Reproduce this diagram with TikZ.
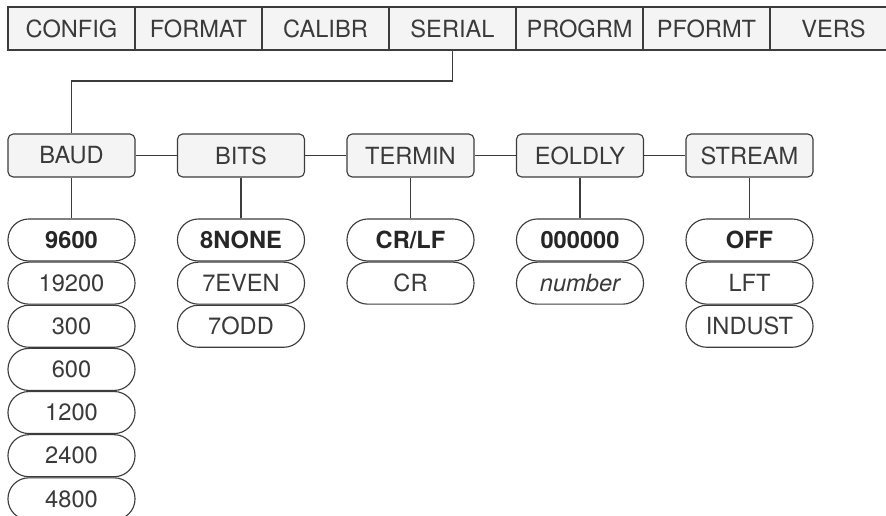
\documentclass[tikz,border=0pt]{standalone}
\usepackage{fontspec}
\setmainfont{TeX Gyre Heros}
\usetikzlibrary{positioning}
\definecolor{barfill}{HTML}{F4F4F4}
\definecolor{linegray}{HTML}{3C3C3C}
\definecolor{textgray}{HTML}{3A3A3A}
\newcommand\labelsize{\fontsize{16.8}{19}\selectfont}
\tikzset{
  tab/.style={draw=linegray, fill=barfill, minimum width=3.175cm, minimum height=1.075cm, inner sep=0pt, text=textgray},
  menu/.style={tab, rounded corners=0.13cm},
  opt/.style={draw=linegray, fill=white, rounded corners=0.52cm, minimum width=3.175cm, minimum height=1.05cm, inner sep=0pt, text=textgray},
  dflt/.style={opt, font=\labelsize\bfseries, text=black!85},
  wire/.style={draw=linegray}
}
\begin{document}
\begin{tikzpicture}[x=0.025cm, y=-0.025cm, line width=0.8pt, font=\labelsize]
\useasboundingbox (0,0) rectangle (886,515);
% Top menu bar
\foreach \key/\lbl [count=\i from 0] in {config/CONFIG,format/FORMAT,calibr/CALIBR,serial/SERIAL,progrm/PROGRM,pformt/PFORMT,vers/VERS}
  \node[tab] (\key) at (71.5+127*\i, 28.5) {\lbl};
% Serial submenu
\foreach \key/\lbl [count=\i from 0] in {baud/BAUD,bits/BITS,termin/TERMIN,eoldly/EOLDLY,stream/STREAM}
  \node[menu] (\key) at (71.5+169.5*\i, 155.5) {\lbl};
\coordinate (turn) at (452.5,81);
\draw[wire] (serial.south) -- (turn) -| (baud.north);
\foreach \a/\b in {baud/bits,bits/termin,termin/eoldly,eoldly/stream}
  \draw[wire] (\a) -- (\b);
% BAUD values
\node[dflt] (b9600) at (71.5,240) {9600};
\node[opt, below=0pt of b9600] (b19200) {19200};
\node[opt, below=0pt of b19200] (b300) {300};
\node[opt, below=0pt of b300] (b600) {600};
\node[opt, below=0pt of b600] (b1200) {1200};
\node[opt, below=0pt of b1200] (b2400) {2400};
\node[opt, below=0pt of b2400] (b4800) {4800};
% BITS values
\node[dflt] (none8) at (241,240) {8NONE};
\node[opt, below=0pt of none8] (even7) {7EVEN};
\node[opt, below=0pt of even7] (odd7) {7ODD};
% TERMIN values
\node[dflt] (crlf) at (410.5,240) {CR/LF};
\node[opt, below=0pt of crlf] (cr) {CR};
% EOLDLY values
\node[dflt] (delay0) at (580,240) {000000};
\node[opt, below=0pt of delay0] (delayn) {\itshape number};
% STREAM values
\node[dflt] (off) at (749.5,240) {OFF};
\node[opt, below=0pt of off] (lft) {LFT};
\node[opt, below=0pt of lft] (indust) {INDUST};
% Links to defaults
\draw[wire] (baud) -- (b9600);
\draw[wire] (bits) -- (none8);
\draw[wire] (termin) -- (crlf);
\draw[wire] (eoldly) -- (delay0);
\draw[wire] (stream) -- (off);
\end{tikzpicture}
\end{document}
